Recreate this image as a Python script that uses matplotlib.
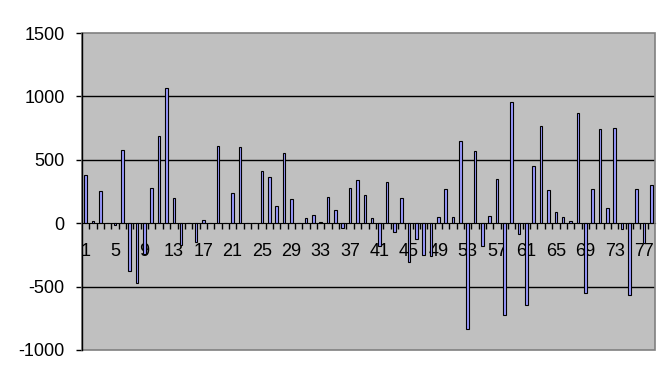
import numpy as np
from matplotlib import pyplot as plt
from matplotlib.patches import Rectangle

plt.rcParams['font.family'] = ['Liberation Sans', 'DejaVu Sans']

# values, categories 1..78
cats = list(range(1, 79))
vals = [378, 16, 252, 0, -16, 574, -380, -472, -240, 275,
        684, 1070, 197, -175, 0, -152, 24, 0, 606, 0,
        236, 598, 0, 0, 409, 362, 134, 551, 189, 0,
        39, 63, 8, 205, 102, -34, 275, 338, 220, 39,
        -178, 322, -66, 197, -307, -128, -252, -260, 47, 270,
        47, 648, -834, 566, -178, 55, 346, -724, 957, -87,
        -645, 448, 763, 260, 87, 47, 16, 873, -551, 267,
        739, 118, 747, -47, -566, 267, -157, 299]
label_pos = list(range(1, 79, 4))
yticks = [-1000, -500, 0, 500, 1000, 1500]

fig = plt.figure(figsize=(6.63, 3.76), dpi=100)
ax = fig.add_axes([82/663, 1-350/376, (655-82)/663, (350-33)/376])
ax.set_facecolor('#C0C0C0')

ax.bar(cats, vals, width=0.36, color='#9999FF', edgecolor='black', linewidth=0.8, zorder=3)

ax.set_xlim(0.5, 78.5)
ax.set_ylim(-1000, 1500)

# gridlines
for v in [-500, 500, 1000]:
    ax.axhline(v, color='black', linewidth=1, zorder=1)

ax.set_yticks(yticks)
ax.set_yticklabels([str(v) for v in yticks], fontsize=13)
ax.tick_params(axis='y', direction='out', length=4.5, width=1, pad=8)

# category axis sits on zero
ax.spines['bottom'].set_position(('data', 0))
ax.spines['bottom'].set_zorder(4)
ax.spines['top'].set_visible(False)
ax.spines['right'].set_visible(False)
ax.spines['left'].set_linewidth(1)
ax.set_xticks(np.arange(1.5, 78.5, 1))
ax.set_xticklabels([])
ax.tick_params(axis='x', which='major', direction='out', length=4, width=1)
ax.set_xticks(label_pos, minor=True)
ax.set_xticklabels([str(c) for c in label_pos], minor=True, fontsize=13)
ax.tick_params(axis='x', which='minor', length=0, pad=14)

# plot area border
ax.add_patch(Rectangle((0, 0), 1, 1, transform=ax.transAxes, fill=False,
                       edgecolor='#808080', linewidth=1.2, zorder=5, clip_on=False))
ax.spines['left'].set_zorder(6)

fig.savefig('out.png', dpi=100)
